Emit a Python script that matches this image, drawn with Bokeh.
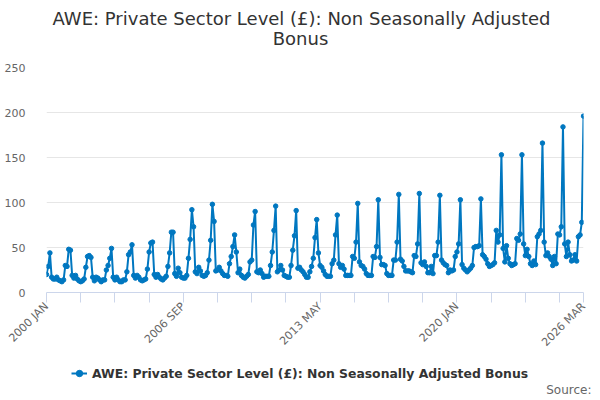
import math
from bokeh.plotting import figure
from bokeh.layouts import column
from bokeh.models import (ColumnDataSource, FixedTicker, Legend, LegendItem, Label, Range1d, Title)
from bokeh.embed import file_html
from bokeh.resources import INLINE

MONTHS = ["JAN", "FEB", "MAR", "APR", "MAY", "JUN", "JUL", "AUG", "SEP", "OCT", "NOV", "DEC"]
years = list(range(2000, 2027))

v2000 = [20, 29, 44, 17, 15, 15, 17, 14, 13, 12, 14, 30]
v2001 = [29, 48, 47, 19, 16, 19, 15, 13, 12, 13, 15, 28]
v2002 = [40, 41, 39, 17, 13, 17, 16, 14, 12, 14, 14, 25]
v2003 = [30, 38, 49, 17, 14, 17, 14, 12, 12, 14, 14, 23]
v2004 = [42, 45, 53, 19, 16, 19, 17, 14, 13, 14, 15, 26]
v2005 = [45, 55, 56, 20, 17, 20, 17, 15, 14, 16, 18, 29]
v2006 = [44, 67, 67, 21, 18, 27, 22, 17, 16, 16, 19, 38]
v2007 = [59, 92, 73, 23, 21, 28, 24, 19, 18, 19, 22, 36]
v2008 = [58, 98, 79, 24, 25, 28, 24, 21, 19, 19, 18, 32]
v2009 = [40, 51, 64, 45, 22, 26, 19, 17, 16, 18, 20, 34]
v2010 = [36, 75, 90, 23, 22, 25, 21, 17, 18, 18, 18, 30]
v2011 = [45, 69, 96, 23, 25, 30, 25, 19, 18, 17, 17, 30]
v2012 = [47, 63, 91, 27, 28, 25, 23, 20, 17, 17, 23, 29]
v2013 = [38, 61, 81, 44, 30, 28, 24, 20, 18, 18, 18, 32]
v2014 = [36, 64, 86, 32, 28, 30, 26, 19, 19, 19, 19, 40]
v2015 = [38, 56, 99, 34, 30, 29, 26, 21, 19, 19, 19, 40]
v2016 = [39, 51, 103, 39, 31, 31, 30, 21, 19, 19, 19, 36]
v2017 = [36, 56, 109, 37, 35, 29, 24, 24, 24, 23, 22, 41]
v2018 = [40, 54, 110, 33, 31, 34, 29, 22, 22, 29, 21, 41]
v2019 = [41, 56, 108, 36, 33, 31, 30, 22, 25, 24, 25, 40]
v2020 = [45, 54, 103, 31, 27, 25, 23, 25, 27, 30, 50, 51]
v2021 = [51, 52, 104, 42, 40, 37, 32, 29, 30, 31, 33, 69]
v2022 = [56, 64, 153, 49, 34, 52, 38, 32, 30, 31, 32, 60]
v2023 = [58, 65, 153, 54, 41, 48, 40, 32, 30, 35, 31, 62]
v2024 = [65, 69, 166, 56, 41, 44, 40, 37, 30, 40, 32, 65]
v2025 = [64, 73, 184, 54, 40, 56, 42, 35, 36, 42, 35, 62]
v2026 = [64, 78, 196]

by_year = [v2000, v2001, v2002, v2003, v2004, v2005, v2006, v2007, v2008, v2009,
           v2010, v2011, v2012, v2013, v2014, v2015, v2016, v2017, v2018, v2019,
           v2020, v2021, v2022, v2023, v2024, v2025, v2026]

shown_labels = ["2000 JAN", "2006 SEP", "2013 MAY", "2020 JAN", "2026 MAR"]
y_ticks = [0, 50, 100, 150, 200, 250]

series_name = "AWE: Private Sector Level (£): Non Seasonally Adjusted Bonus"
title_line1 = "AWE: Private Sector Level (£): Non Seasonally Adjusted"
title_line2 = "Bonus"
source_text = "Source:"

values = [v for vals in by_year for v in vals]
labels = [f"{y} {MONTHS[m]}" for y, vals in zip(years, by_year) for m in range(len(vals))]
x = list(range(len(values)))
src = ColumnDataSource(dict(x=x, y=values, label=labels))

FONT = "DejaVu Sans"
BLUE = "#0077c0"
W = 600
LEFT = 46   # frame offset shared by all stacked figures (frames are aligned)


def blank(height, y_range=(0, 1), **kw):
    f = figure(width=W, height=height, output_backend="svg", toolbar_location=None,
               x_range=Range1d(0, 1), y_range=Range1d(*y_range),
               x_axis_type=None, y_axis_type=None, title=None,
               outline_line_color=None,
               background_fill_color="white", border_fill_color="white", **kw)
    f.xgrid.visible = False
    f.ygrid.visible = False
    return f


# ---- title strip ----
top = blank(50, min_border=0)
top.add_layout(Label(x=301 - LEFT, y=32.5, x_units="screen", y_units="screen", text=title_line1,
                     text_align="center", text_baseline="middle", text_font=FONT,
                     text_font_size="18px", text_color="#333333"))
top.add_layout(Label(x=300 - LEFT, y=12.5, x_units="screen", y_units="screen", text=title_line2,
                     text_align="center", text_baseline="middle", text_font=FONT,
                     text_font_size="18px", text_color="#333333"))

# ---- main chart ----
p = figure(width=W, height=308, output_backend="svg", toolbar_location=None,
           title=None,
           x_range=Range1d(0, len(values) - 1), y_range=Range1d(y_ticks[0], y_ticks[-1]),
           min_border_left=LEFT, min_border_right=17, min_border_top=17, min_border_bottom=66,
           outline_line_color=None, background_fill_color="white", border_fill_color="white")

ln = p.line("x", "y", source=src, line_color=BLUE, line_width=2)
sc = p.scatter("x", "y", source=src, size=4.5, fill_color=BLUE, line_color=BLUE)

tick_pos = list(range(0, len(values), 20)) + [len(values) - 1]
p.xaxis.ticker = FixedTicker(ticks=tick_pos)
p.xaxis.major_label_overrides = {i: (labels[i] if labels[i] in shown_labels else "") for i in tick_pos}
p.xaxis.major_label_orientation = math.pi / 4
p.xaxis.axis_line_color = "#ccd6eb"
p.xaxis.major_tick_line_color = "#ccd6eb"
p.xaxis.major_tick_out = 10
p.xaxis.major_tick_in = 0
p.xaxis.minor_tick_line_color = None
p.xaxis.major_label_text_font = FONT
p.xaxis.major_label_text_font_size = "11px"
p.xaxis.major_label_text_color = "#666666"
p.xaxis.major_label_standoff = 2
p.xgrid.grid_line_color = None

p.yaxis.ticker = FixedTicker(ticks=y_ticks)
p.yaxis.axis_line_color = None
p.yaxis.major_tick_line_color = None
p.yaxis.minor_tick_line_color = None
p.yaxis.major_label_text_font = FONT
p.yaxis.major_label_text_font_size = "11px"
p.yaxis.major_label_text_color = "#666666"
p.yaxis.major_label_standoff = 15
p.ygrid.grid_line_color = "#e6e6e6"
p.ygrid.ticker = FixedTicker(ticks=y_ticks)

# ---- legend / source strip ----
# the series is referenced here only so the legend can draw its symbol;
# the strip's ranges keep the series itself out of view
bot = blank(42, y_range=(-2, -1), min_border_left=0, min_border_right=0,
            min_border_top=0, min_border_bottom=19)
lg_line = bot.line("x", "y", source=src, line_color=BLUE, line_width=2)
lg_mark = bot.scatter("x", "y", source=src, size=4.5, fill_color=BLUE, line_color=BLUE)
legend = Legend(items=[LegendItem(label=series_name, renderers=[lg_line, lg_mark])],
                location=(71 - LEFT, 0), orientation="horizontal",
                label_text_font=FONT, label_text_font_size="12.4px",
                label_text_font_style="bold", label_text_color="#333333",
                glyph_width=16, glyph_height=16, label_height=16, label_standoff=5,
                padding=0, margin=0, spacing=0, border_line_color=None,
                background_fill_alpha=0)
bot.add_layout(legend, "center")
bot.add_layout(Title(text=source_text, align="right", vertical_align="middle", offset=-8,
                     standoff=0, text_font=FONT, text_font_size="12px",
                     text_font_style="normal", text_color="#666666"), "below")

layout = column(top, p, bot, spacing=0)
open("out.html", "w").write(file_html(layout, INLINE))
